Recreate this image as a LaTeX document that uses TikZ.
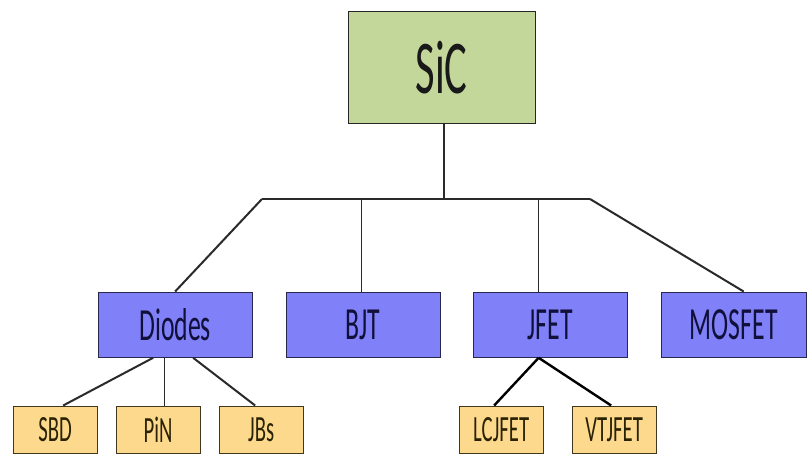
\documentclass[tikz,border=0pt]{standalone}
\usepackage{fontspec}
\setmainfont{Carlito}[FakeStretch=0.56]
\definecolor{sicfill}{HTML}{C4D79B}
\definecolor{devfill}{HTML}{8080F8}
\definecolor{subfill}{HTML}{FCD98C}
\definecolor{devtext}{HTML}{10103A}
\definecolor{subtext}{HTML}{2A2205}
\definecolor{wire}{HTML}{2A2A2A}
\tikzset{
  box/.style={draw=#1, line width=1.3pt, inner sep=0pt, anchor=north west},
  rootbox/.style={box=black!85, fill=sicfill, text=black!90,
    minimum width=187pt, minimum height=112pt, font=\fontsize{76}{76}\selectfont},
  devbox/.style={box=devtext!90, fill=devfill, text=devtext,
    minimum height=65pt, font=\fontsize{46}{46}\selectfont},
  subbox/.style={box=subtext!90, fill=subfill, text=subtext,
    minimum width=84pt, minimum height=47pt, font=\fontsize{37}{37}\selectfont},
  thick wire/.style={draw=wire, line width=2pt},
  thin wire/.style={draw=wire, line width=1pt},
}
\begin{document}
\begin{tikzpicture}[x=1pt, y=-1pt]
  \fill[white] (0,0) rectangle (808,453);
  \useasboundingbox (0,0) rectangle (808,453);

  % junction points of the bus
  \coordinate (hub)  at (444,199);
  \coordinate (busL) at (262,199);
  \coordinate (busR) at (590,199);
  \coordinate (tapB) at (361,199);
  \coordinate (tapJ) at (538,199);

  % root
  \node[rootbox] (sic) at (347.5,10.5) {SiC};

  % device families
  \node[devbox, minimum width=154pt] (diodes) at (97.5,291.5) {Diodes};
  \node[devbox, minimum width=154pt] (bjt)    at (285.5,291.5) {BJT};
  \node[devbox, minimum width=154pt] (jfet)   at (472.5,291.5) {JFET};
  \node[devbox, minimum width=145pt] (mosfet) at (660.5,291.5) {MOSFET};

  % sub-types
  \node[subbox] (sbd)    at (12.5,405.5)  {SBD};
  \node[subbox] (pin)    at (115.5,405.5) {PiN};
  \node[subbox] (jbs)    at (218.5,405.5) {JBs};
  \node[subbox] (lcjfet) at (458.5,405.5) {LCJFET};
  \node[subbox] (vtjfet) at (571.5,405.5) {VTJFET};

  % trunk and bus
  \draw[thick wire] (sic.south -| hub) -- (hub);
  \draw[thick wire] (busL) -- (busR);

  % bus to device families
  \draw[thick wire] (busL) -- (diodes.north);
  \draw[thin wire]  (tapB) -- (tapB |- bjt.north);
  \draw[thin wire]  (tapJ) -- (tapJ |- jfet.north);
  \draw[thick wire] (busR) -- ([xshift=10pt]mosfet.north);

  % diodes to sub-types
  \draw[thick wire] ([xshift=-22pt]diodes.south) -- ([xshift=8pt]sbd.north);
  \draw[thin wire]  ([xshift=-11pt]diodes.south) -- ([xshift=-11pt]diodes.south |- pin.north);
  \draw[thick wire] ([xshift=18pt]diodes.south) -- ([xshift=-6pt]jbs.north);

  % JFET to sub-types
  \draw[draw=black, line width=2.4pt] ([xshift=-11.5pt]jfet.south) -- ([xshift=-7pt]lcjfet.north);
  \draw[draw=black, line width=2.4pt] ([xshift=-11.5pt]jfet.south) -- ([xshift=-3pt]vtjfet.north);
\end{tikzpicture}
\end{document}
